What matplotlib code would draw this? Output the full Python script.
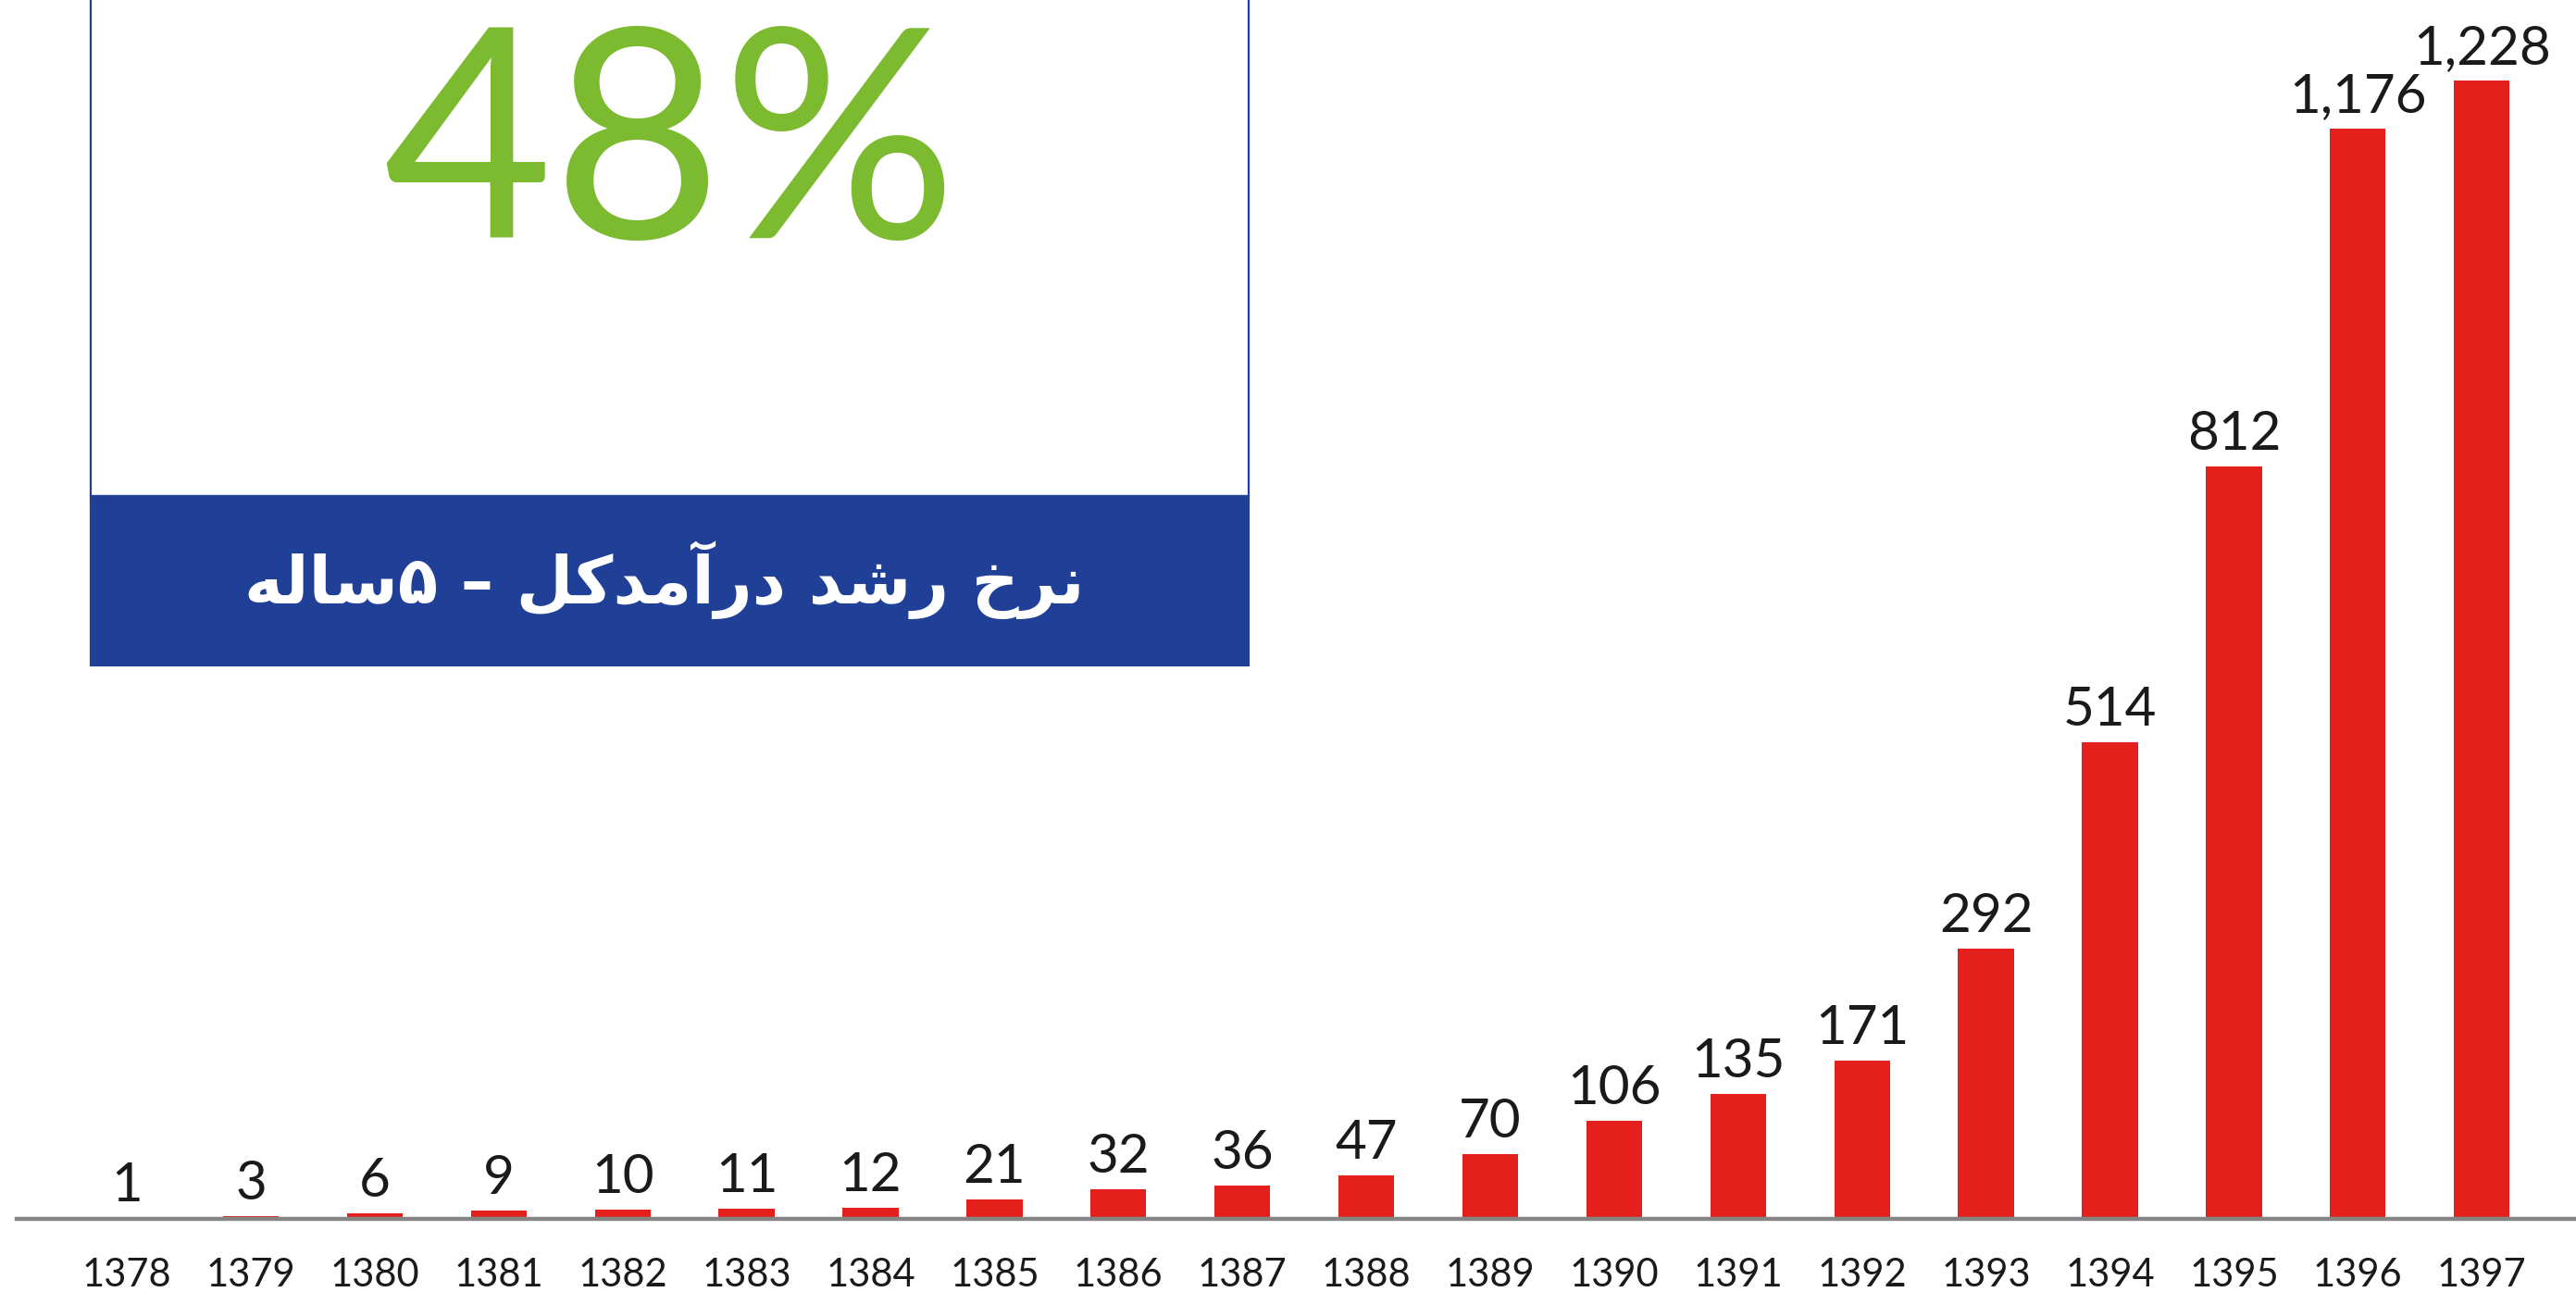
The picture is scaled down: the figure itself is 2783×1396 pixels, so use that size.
import matplotlib
matplotlib.use("Agg")
import matplotlib.pyplot as plt
from matplotlib.patches import Rectangle

# data
years = ['1378', '1379', '1380', '1381', '1382', '1383', '1384', '1385', '1386', '1387',
         '1388', '1389', '1390', '1391', '1392', '1393', '1394', '1395', '1396', '1397']
revenue = [1, 3, 6, 9, 10, 11, 12, 21, 32, 36, 47, 70, 106, 135, 171, 292, 514, 812, 1176, 1228]
growth_label = '48%'
box_title = 'نرخ رشد درآمدکل – ۵ساله'

BAR_RED = '#e3201b'
BLUE = '#1f4096'
GREEN = '#7cba2f'

W, H = 2783, 1396


# matplotlib has no arabic shaping, so pick the joined glyph forms by hand
FORMS = {
    'ن': ('\uFEE5', '\uFEE6', '\uFEE7', '\uFEE8'),
    'خ': ('\uFEA5', '\uFEA6', '\uFEA7', '\uFEA8'),
    'ش': ('\uFEB5', '\uFEB6', '\uFEB7', '\uFEB8'),
    'م': ('\uFEE1', '\uFEE2', '\uFEE3', '\uFEE4'),
    'ک': ('\uFB8E', '\uFB8F', '\uFB90', '\uFB91'),
    'ل': ('\uFEDD', '\uFEDE', '\uFEDF', '\uFEE0'),
    'س': ('\uFEB1', '\uFEB2', '\uFEB3', '\uFEB4'),
    'ه': ('\uFEE9', '\uFEEA', '\uFEEB', '\uFEEC'),
    'ر': ('\uFEAD', '\uFEAE', None, None),
    'د': ('\uFEA9', '\uFEAA', None, None),
    'ا': ('\uFE8D', '\uFE8E', None, None),
    '\u0622': ('\uFE81', '\uFE82', None, None),
}


def shape_rtl(s):
    out = []
    for i, ch in enumerate(s):
        if ch not in FORMS:
            out.append(ch)
            continue
        prev = s[i - 1] if i > 0 else ''
        nxt = s[i + 1] if i + 1 < len(s) else ''
        join_prev = prev in FORMS and FORMS[prev][2] is not None
        join_next = FORMS[ch][2] is not None and nxt in FORMS
        if join_prev and join_next:
            out.append(FORMS[ch][3])
        elif join_prev:
            out.append(FORMS[ch][1])
        elif join_next:
            out.append(FORMS[ch][2])
        else:
            out.append(FORMS[ch][0])
    return ''.join(reversed(out))


fig = plt.figure(figsize=(W / 100, H / 100), dpi=100)
fig.patch.set_facecolor('white')

ax = fig.add_axes([18 / W, 79 / H, 1 - 18 / W, 1317 / H])
x = list(range(len(years)))
bars = ax.bar(x, revenue, width=0.45, color=BAR_RED, zorder=2)

for xi, v in zip(x, revenue):
    ax.annotate(f'{v:,}', (xi, v), xytext=(0, 13), textcoords='offset points',
                ha='center', va='baseline', fontsize=42, family='Lato', color='#1a1a1a')

ax.set_xlim(-0.889, 19.76)
ax.set_ylim(0, 1315)
ax.set_xticks(x)
ax.set_xticklabels(years, fontsize=30, family='Lato', color='#1a1a1a')
ax.tick_params(axis='x', length=0, pad=30)
ax.set_yticks([])
for side in ['top', 'left', 'right']:
    ax.spines[side].set_visible(False)
ax.spines['bottom'].set_color('#858585')
ax.spines['bottom'].set_linewidth(3.2)
ax.spines['bottom'].set_zorder(3)

# summary box top-left
fig.add_artist(Rectangle((98 / W, 1 - 536 / H), (1349 - 98) / W, 540 / H,
                         transform=fig.transFigure, facecolor='white',
                         edgecolor=BLUE, linewidth=1.6))
fig.add_artist(Rectangle((98 / W, 1 - 719 / H), (1349 - 98) / W, (719 - 536) / H,
                         transform=fig.transFigure, facecolor=BLUE, edgecolor=BLUE,
                         linewidth=1.6))
fig.text(724 / W, 1 - 257 / H, growth_label, ha='center', va='baseline',
         fontsize=228, family='Lato', color=GREEN)
fig.text(718 / W, 1 - 627 / H, shape_rtl(box_title), ha='center', va='center',
         fontsize=51, fontweight='bold', family=['DejaVu Sans'], color='white')

fig.savefig('out.png', dpi=100, facecolor='white')
plt.close(fig)
